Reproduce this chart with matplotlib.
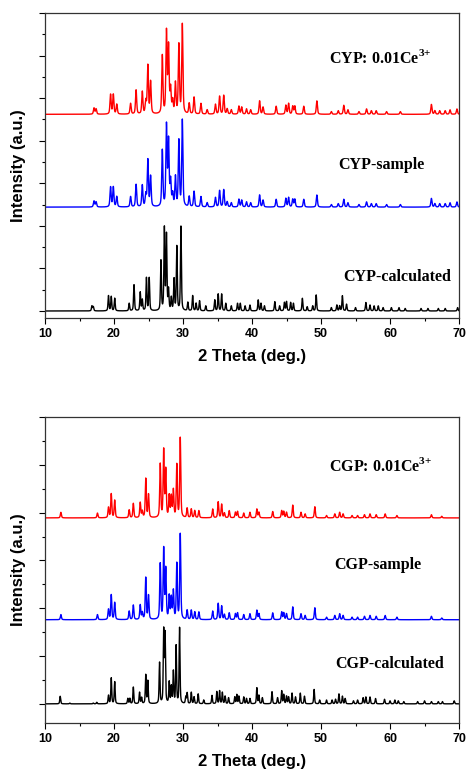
import numpy as np
import matplotlib
matplotlib.use("Agg")
import matplotlib.pyplot as plt
from matplotlib.ticker import MultipleLocator

# peak lists (2theta, relative intensity, strongest = 100)
cyp_ce_pos = [17.1, 17.4, 19.5, 19.9, 20.4, 22.4, 23.2, 24.1, 24.6, 24.9, 25.3, 27.0, 27.6, 27.9,
              28.2, 28.5, 28.9, 29.4, 29.9, 30.9, 31.6, 32.6, 33.5, 34.7, 35.3, 35.9, 36.4, 37.0,
              38.1, 38.5, 39.2, 39.8, 41.1, 41.6, 43.5, 44.9, 45.3, 45.9, 46.2, 47.5, 49.4, 51.5,
              52.5, 53.3, 53.9, 55.5, 56.6, 57.3, 58.0, 59.5, 61.5, 66.0, 66.5, 67.2, 68.0, 68.7, 69.7]
cyp_ce_int = [7, 6, 22, 22, 11, 12, 27, 25, 14, 54, 36, 65, 91, 74,
              27, 14, 34, 77, 100, 12, 19, 12, 5, 11, 20, 21, 6, 5,
              9, 8, 6, 5, 15, 8, 9, 10, 12, 9, 9, 9, 15, 3,
              4, 10, 5, 3, 6, 4, 4, 3, 3, 11, 4, 4, 4, 5, 6]

cyp_sample_pos = cyp_ce_pos
cyp_sample_int = [7, 6, 23, 23, 12, 12, 26, 25, 14, 54, 35, 65, 93, 75,
                  29, 14, 34, 76, 100, 12, 18, 12, 5, 11, 19, 20, 6, 5,
                  9, 8, 6, 5, 14, 8, 9, 10, 11, 9, 9, 9, 14, 3,
                  4, 9, 5, 3, 6, 4, 4, 3, 3, 10, 4, 4, 4, 5, 6]

cyp_calc_pos = [16.8, 17.0, 19.2, 19.6, 20.1, 22.2, 22.9, 23.8, 24.1, 24.7, 25.1, 26.8, 27.3, 27.6,
                27.9, 28.3, 28.7, 29.1, 29.7, 30.7, 31.4, 31.9, 32.4, 33.3, 34.6, 35.1, 35.6, 36.2,
                37.0, 37.9, 38.3, 39.0, 39.7, 40.9, 41.3, 41.8, 43.3, 44.0, 44.7, 45.0, 45.6, 46.0,
                47.3, 48.0, 48.8, 49.3, 51.5, 52.3, 52.7, 53.1, 53.7, 55.0, 56.5, 57.1, 57.7, 58.3,
                59.0, 60.2, 61.3, 62.2, 64.5, 65.5, 67.0, 68.0, 69.8]
cyp_calc_int = [6, 5, 18, 17, 15, 9, 31, 22, 13, 39, 39, 59, 97, 89,
                24, 15, 37, 76, 100, 10, 18, 9, 12, 6, 13, 20, 20, 9,
                6, 9, 9, 6, 7, 13, 9, 6, 11, 6, 10, 11, 10, 9,
                15, 5, 6, 19, 4, 7, 6, 18, 8, 4, 10, 7, 6, 6,
                4, 4, 4, 3, 3, 3, 3, 3, 4]

cgp_ce_pos = [12.3, 17.6, 19.2, 19.6, 20.1, 22.2, 22.8, 23.8, 24.1, 24.6, 25.0, 26.7, 27.2, 27.5,
              28.0, 28.3, 28.6, 29.1, 29.6, 30.6, 31.2, 31.7, 32.3, 34.3, 35.1, 35.6, 36.0, 36.7,
              37.6, 37.9, 38.8, 39.7, 40.7, 41.0, 43.0, 44.3, 44.6, 45.0, 45.9, 47.1, 47.7, 49.1,
              50.8, 52.0, 52.7, 53.2, 54.5, 55.3, 56.3, 57.1, 58.0, 59.3, 61.0, 66.0, 67.5]
cgp_ce_int = [7, 6, 13, 30, 22, 10, 18, 19, 8, 49, 29, 67, 84, 59,
              27, 26, 34, 66, 100, 12, 11, 9, 9, 11, 20, 17, 6, 9,
              7, 8, 6, 7, 11, 7, 8, 9, 8, 7, 16, 7, 5, 14,
              3, 5, 7, 5, 3, 3, 4, 5, 4, 5, 3, 4, 2]

cgp_sample_pos = cgp_ce_pos
cgp_sample_int = [6, 6, 12, 29, 20, 10, 17, 17, 8, 49, 28, 65, 82, 58,
                  27, 25, 33, 65, 100, 11, 11, 9, 9, 10, 19, 16, 6, 8,
                  7, 8, 6, 7, 11, 7, 8, 9, 8, 7, 15, 7, 5, 14,
                  3, 5, 7, 5, 3, 3, 4, 5, 4, 5, 3, 4, 2]

cgp_calc_pos = [12.2, 13.6, 17.0, 17.5, 19.2, 19.6, 20.1, 22.0, 22.3, 22.8, 23.7, 24.0, 24.6, 24.9,
                26.6, 27.2, 27.4, 28.0, 28.3, 28.6, 29.0, 29.5, 30.4, 30.6, 31.2, 31.6, 32.2, 33.0,
                34.2, 34.9, 35.3, 35.7, 36.1, 36.6, 37.5, 37.8, 38.1, 38.8, 39.2, 39.7, 40.7, 41.0,
                41.5, 42.9, 43.7, 44.3, 44.6, 45.0, 45.3, 45.8, 46.3, 47.0, 47.6, 49.0, 49.8, 50.8,
                51.6, 52.1, 52.6, 53.1, 53.5, 54.7, 55.3, 56.1, 56.5, 57.1, 57.9, 59.2, 60.0, 60.7,
                61.2, 62.0, 64.0, 65.0, 66.0, 67.0, 67.6, 69.3]
cgp_calc_int = [10, 1, 1, 2, 11, 34, 29, 7, 7, 22, 15, 8, 38, 30,
                54, 95, 90, 28, 22, 42, 76, 100, 9, 14, 15, 9, 13, 5,
                11, 16, 17, 15, 10, 8, 9, 12, 10, 9, 7, 7, 21, 11,
                8, 16, 8, 17, 12, 10, 9, 14, 9, 14, 10, 19, 5, 5,
                5, 6, 13, 10, 7, 4, 5, 8, 9, 9, 7, 6, 4, 5,
                4, 3, 3, 4, 3, 3, 3, 4]

tth = np.linspace(10, 70, 6001)


def pattern(pos, inten, fwhm):
    # pseudo-Voigt peaks, scaled so the strongest point is 1
    y = np.zeros_like(tth)
    for p, a in zip(pos, inten):
        d = (tth - p) / (fwhm / 2)
        lor = 1 / (1 + d ** 2)
        gau = np.exp(-np.log(2) * d ** 2)
        y += a * (0.5 * lor + 0.5 * gau)
    return y / y.max()


def draw_panel(ax, curves, labels, ylim):
    for (pos, inten, fwhm, color, base, height) in curves:
        ax.plot(tth, base + height * pattern(pos, inten, fwhm), color=color, lw=1.0)
    for (txt, x, y) in labels:
        ax.text(x, y, txt, ha="center", va="center", fontsize=11.5,
                family="Liberation Serif", fontweight="bold")
    ax.set_xlim(10, 70)
    ax.set_ylim(*ylim)
    ax.xaxis.set_major_locator(MultipleLocator(10))
    ax.xaxis.set_minor_locator(MultipleLocator(5))
    ax.yaxis.set_major_locator(MultipleLocator(1))
    ax.yaxis.set_minor_locator(MultipleLocator(0.5))
    ax.tick_params(which="major", length=4, width=0.8, direction="out")
    ax.tick_params(which="minor", length=2.5, width=0.8, direction="out")
    ax.set_yticklabels([])
    for lab in ax.get_xticklabels():
        lab.set_fontweight("bold")
        lab.set_fontsize(9)
    ax.set_xlabel("2 Theta (deg.)", fontsize=12, fontweight="bold", labelpad=6)
    ax.set_ylabel("Intensity (a.u.)", fontsize=12, fontweight="bold", labelpad=6)
    for sp in ax.spines.values():
        sp.set_linewidth(0.9)
        sp.set_color("#333333")


plt.rcParams["font.family"] = ["Liberation Sans", "DejaVu Sans"]
plt.rcParams["mathtext.fontset"] = "custom"
plt.rcParams["mathtext.bf"] = "Liberation Serif:bold"
plt.rcParams["mathtext.rm"] = "Liberation Serif:bold"

fig = plt.figure(figsize=(4.67, 7.73), dpi=100)
ax1 = fig.add_axes([0.0964, 0.5886, 0.8865, 0.3946])
ax2 = fig.add_axes([0.0964, 0.0647, 0.8865, 0.3958])

draw_panel(ax1,
           [(cyp_ce_pos, cyp_ce_int, 0.2, "#ff0000", 4.62, 2.14),
            (cyp_sample_pos, cyp_sample_int, 0.2, "#0000ff", 2.44, 2.07),
            (cyp_calc_pos, cyp_calc_int, 0.16, "black", 0.0, 2.0)],
           [("CYP: 0.01Ce$^{\\mathbf{3{+}}}$", 58.6, 5.94),
            ("CYP-sample", 58.8, 3.43),
            ("CYP-calculated", 61.0, 0.80)],
           (-0.165, 7.0))

draw_panel(ax2,
           [(cgp_ce_pos, cgp_ce_int, 0.18, "#ff0000", 3.89, 1.69),
            (cgp_sample_pos, cgp_sample_int, 0.18, "#0000ff", 1.76, 1.81),
            (cgp_calc_pos, cgp_calc_int, 0.15, "black", 0.0, 1.61)],
           [("CGP: 0.01Ce$^{\\mathbf{3{+}}}$", 58.6, 4.97),
            ("CGP-sample", 58.3, 2.91),
            ("CGP-calculated", 60.0, 0.83)],
           (-0.4, 6.0))

fig.savefig("out.png", dpi=100)
